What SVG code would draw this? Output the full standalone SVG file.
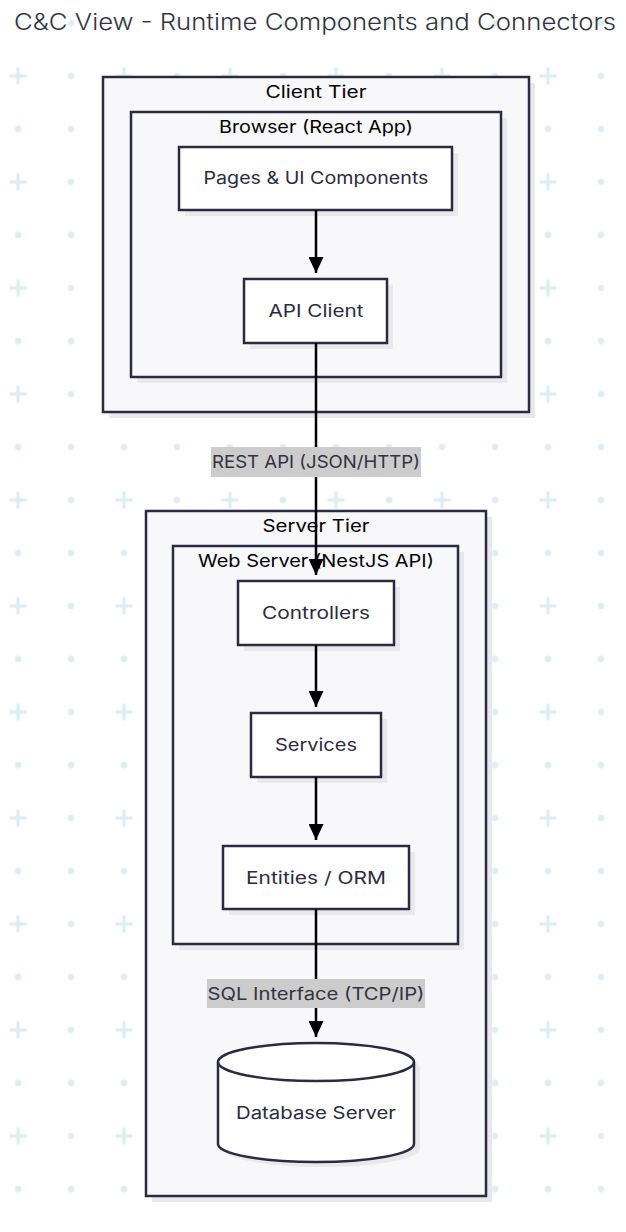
<svg xmlns="http://www.w3.org/2000/svg" width="626" height="1232" viewBox="0 0 626 1232">
  <defs>
    <pattern id="grid" patternUnits="userSpaceOnUse" x="-8.5" y="49.5" width="106" height="106">
      <path d="M19.5 26.5 H33.5 M26.5 19.5 V33.5" stroke="#dceef1" stroke-width="3.5" stroke-linecap="round" fill="none"/>
      <circle cx="79.5" cy="26.5" r="3.2" fill="#dceef1"/>
      <circle cx="26.5" cy="79.5" r="3.2" fill="#dceef1"/>
      <circle cx="79.5" cy="79.5" r="3.2" fill="#dceef1"/>
    </pattern>
    <marker id="arrow" viewBox="0 0 16 15" refX="16" refY="7.5" markerWidth="16" markerHeight="15" markerUnits="userSpaceOnUse" orient="auto">
      <path d="M0 0 L16 7.5 L0 15 Z" fill="#000"/>
    </marker>
    <style>
      .cluster { fill: #f8f8fa; stroke: #2b2a42; stroke-width: 2.5; }
      .node { fill: #ffffff; stroke: #2b2a42; stroke-width: 2.5; }
      .shadow { fill: #e9e9ec; }
      .txt { font-family: "Inter", "DejaVu Sans", sans-serif; font-size: 17px; fill: #2b2a42; text-anchor: middle; dominant-baseline: central; }
      .ctitle { font-family: "Inter", "DejaVu Sans", sans-serif; font-size: 17px; fill: #000; text-anchor: middle; dominant-baseline: central; }
      .lbl { font-family: "Inter", "DejaVu Sans", sans-serif; font-size: 17px; fill: #333340; text-anchor: middle; dominant-baseline: central; }
      .lblbg { fill: #cccccc; }
      .edge { stroke: #000; stroke-width: 2.5; fill: none; marker-end: url(#arrow); }
    </style>
  </defs>

  <rect x="0" y="0" width="626" height="1232" fill="#ffffff"/>
  <rect x="0" y="0" width="626" height="1232" fill="url(#grid)"/>

  <text x="315" y="22" font-family="Inter, 'DejaVu Sans', sans-serif" font-size="23" font-weight="300" fill="#333340" text-anchor="middle" dominant-baseline="central" textLength="602" lengthAdjust="spacingAndGlyphs">C&amp;C View - Runtime Components and Connectors</text>

  <g id="client-tier">
    <rect class="shadow" x="109" y="83" width="426" height="335"/>
    <rect class="cluster" x="103" y="77" width="426" height="335"/>
    <text class="ctitle" x="316" y="92" textLength="101" lengthAdjust="spacingAndGlyphs">Client Tier</text>
  </g>
  <g id="browser">
    <rect class="shadow" x="137" y="118" width="370" height="265"/>
    <rect class="cluster" x="131" y="112" width="370" height="265"/>
    <text class="ctitle" x="316" y="127" textLength="194" lengthAdjust="spacingAndGlyphs">Browser (React App)</text>
  </g>
  <g id="server-tier">
    <rect class="shadow" x="152" y="517" width="340" height="685"/>
    <rect class="cluster" x="146" y="511" width="340" height="685"/>
    <text class="ctitle" x="316" y="526" textLength="107" lengthAdjust="spacingAndGlyphs">Server Tier</text>
  </g>
  <g id="web-server">
    <rect class="shadow" x="179" y="552" width="285" height="398"/>
    <rect class="cluster" x="173" y="546" width="285" height="398"/>
    <text class="ctitle" x="316" y="561" textLength="236" lengthAdjust="spacingAndGlyphs">Web Server (NestJS API)</text>
  </g>

  <g id="pages">
    <rect class="shadow" x="185" y="153" width="273" height="63"/>
    <rect class="node" x="179" y="147" width="273" height="63"/>
    <text class="txt" x="316" y="178" textLength="225" lengthAdjust="spacingAndGlyphs">Pages &amp; UI Components</text>
  </g>
  <g id="api-client">
    <rect class="shadow" x="250" y="285" width="143" height="64"/>
    <rect class="node" x="244" y="279" width="143" height="64"/>
    <text class="txt" x="316" y="311" textLength="95" lengthAdjust="spacingAndGlyphs">API Client</text>
  </g>
  <g id="controllers">
    <rect class="shadow" x="244" y="587" width="156" height="64"/>
    <rect class="node" x="238" y="581" width="156" height="64"/>
    <text class="txt" x="316" y="613" textLength="108" lengthAdjust="spacingAndGlyphs">Controllers</text>
  </g>
  <g id="services">
    <rect class="shadow" x="257" y="719" width="130" height="64"/>
    <rect class="node" x="251" y="713" width="130" height="64"/>
    <text class="txt" x="316" y="745" textLength="82" lengthAdjust="spacingAndGlyphs">Services</text>
  </g>
  <g id="entities">
    <rect class="shadow" x="229" y="852" width="186" height="63"/>
    <rect class="node" x="223" y="846" width="186" height="63"/>
    <text class="txt" x="316" y="878" textLength="140" lengthAdjust="spacingAndGlyphs">Entities / ORM</text>
  </g>
  <g id="database">
    <path class="shadow" d="M224 1068 A98 19 0 0 1 420 1068 V1149 A98 18 0 0 1 224 1149 Z"/>
    <path class="node" d="M218 1062 A98 19 0 0 1 414 1062 V1144 A98 18 0 0 1 218 1144 Z"/>
    <path d="M218 1062 A98 19 0 0 0 414 1062" fill="none" stroke="#2b2a42" stroke-width="2.5"/>
    <text class="txt" x="316" y="1113" textLength="160" lengthAdjust="spacingAndGlyphs">Database Server</text>
  </g>

  <g id="connectors">
    <line class="edge" x1="316" y1="210" x2="316" y2="273"/>
    <line class="edge" x1="316" y1="343" x2="316" y2="575"/>
    <line class="edge" x1="316" y1="645" x2="316" y2="707"/>
    <line class="edge" x1="316" y1="777" x2="316" y2="840"/>
    <line class="edge" x1="316" y1="909" x2="316" y2="1037"/>
    <g id="label-rest">
      <rect class="lblbg" x="211" y="447" width="210" height="30"/>
      <text class="lbl" x="316" y="462" textLength="208" lengthAdjust="spacingAndGlyphs">REST API (JSON/HTTP)</text>
    </g>
    <g id="label-sql">
      <rect class="lblbg" x="207" y="979" width="218" height="29"/>
      <text class="lbl" x="316" y="994" textLength="217" lengthAdjust="spacingAndGlyphs">SQL Interface (TCP/IP)</text>
    </g>
  </g>
</svg>
